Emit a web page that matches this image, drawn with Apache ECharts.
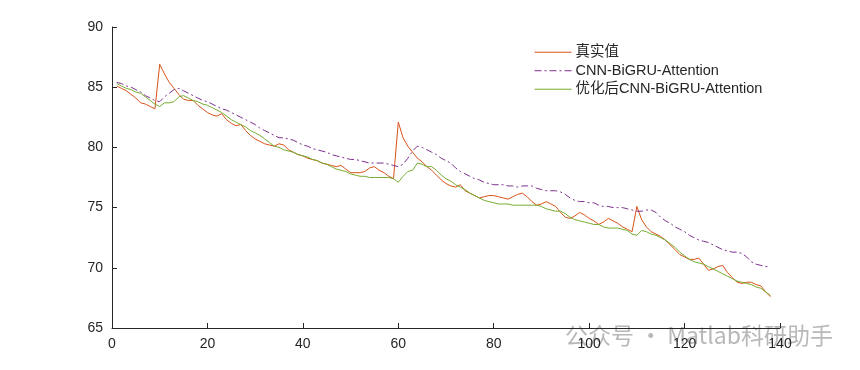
<!DOCTYPE html>
<html>
<head>
<meta charset="utf-8">
<script src="https://cdn.jsdelivr.net/npm/echarts@6/dist/echarts.min.js"></script>
<style>html,body{margin:0;padding:0;background:#fff;}#c{width:860px;height:370px;}</style>
</head>
<body>
<div id="c"></div>
<script>
var seriesNames = ['真实值', 'CNN-BiGRU-Attention', '优化后CNN-BiGRU-Attention'];
var xTicks = [0, 20, 40, 60, 80, 100, 120, 140];
var yTicks = [65, 70, 75, 80, 85, 90];

var realValues = [
85.1,84.9,84.7,84.4,84.1,83.7,83.6,83.4,83.2,86.9,
86.1,85.4,84.9,84.4,84.0,83.9,83.9,83.5,83.2,82.9,
82.7,82.6,82.8,82.3,82.0,81.8,81.9,81.4,81.0,80.7,
80.5,80.3,80.2,80.1,80.3,80.2,79.8,79.6,79.4,79.3,
79.1,79.0,78.9,78.7,78.6,78.5,78.4,78.5,78.2,77.9,
77.9,77.9,78.0,78.3,78.4,78.1,77.9,77.6,77.4,82.1,
80.8,80.1,79.6,79.1,78.8,78.4,78.1,77.7,77.3,77.0,
76.8,76.7,76.9,76.4,76.2,76.0,75.8,75.9,76.0,76.0,
75.9,75.8,75.7,75.9,76.1,76.2,75.9,75.5,75.2,75.3,
75.5,75.3,75.1,74.6,74.2,74.1,74.3,74.6,74.4,74.1,
73.9,73.6,73.8,74.1,73.9,73.7,73.4,73.2,73.0,75.1,
74.0,73.4,73.0,72.8,72.6,72.3,71.9,71.5,71.1,70.9,
70.7,70.7,70.8,70.3,69.8,69.9,70.1,70.2,69.6,69.2,
68.8,68.7,68.8,68.8,68.6,68.5,68.0,67.6
];

var cnnValues = [
85.4,85.3,85.1,85.0,84.8,84.6,84.3,84.1,83.9,83.8,
84.2,84.5,84.8,84.9,84.7,84.5,84.3,84.1,83.9,83.8,
83.6,83.4,83.2,83.1,82.9,82.7,82.5,82.3,82.1,81.9,
81.6,81.4,81.2,81.0,80.8,80.8,80.7,80.6,80.4,80.2,
80.1,79.9,79.8,79.7,79.6,79.4,79.3,79.2,79.1,79.0,
79.0,78.9,78.8,78.7,78.7,78.7,78.7,78.6,78.5,78.4,
78.6,79.1,79.7,80.1,80.0,79.8,79.6,79.4,79.1,78.9,
78.7,78.3,78.0,77.8,77.6,77.4,77.3,77.1,77.0,76.9,
76.9,76.9,76.8,76.8,76.7,76.8,76.8,76.8,76.6,76.5,
76.4,76.4,76.4,76.3,76.1,75.8,75.6,75.5,75.5,75.4,
75.4,75.2,75.1,75.1,75.0,75.0,75.0,74.9,74.8,74.7,
74.7,74.8,74.8,74.6,74.2,73.9,73.7,73.4,73.2,73.0,
72.7,72.5,72.3,72.2,72.1,71.9,71.7,71.5,71.4,71.3,
71.3,71.2,70.9,70.5,70.3,70.2,70.1,70.1
];

var optValues = [
85.3,85.1,84.9,84.8,84.6,84.5,84.2,83.9,83.6,83.4,
83.7,83.7,83.8,84.2,84.3,84.1,83.9,83.8,83.6,83.5,
83.3,83.1,82.9,82.6,82.3,82.1,81.9,81.7,81.4,81.2,
81.0,80.7,80.4,80.1,80.0,79.8,79.7,79.6,79.4,79.3,
79.2,79.0,78.9,78.7,78.6,78.4,78.2,78.1,78.0,77.8,
77.7,77.6,77.6,77.5,77.5,77.5,77.5,77.5,77.4,77.1,
77.6,78.0,78.1,78.7,78.6,78.4,78.4,78.1,77.7,77.4,
77.2,76.9,76.7,76.5,76.2,76.0,75.8,75.6,75.5,75.4,
75.3,75.3,75.3,75.2,75.2,75.2,75.2,75.2,75.2,75.1,
74.9,74.8,74.7,74.7,74.5,74.2,74.0,73.9,73.8,73.7,
73.6,73.6,73.4,73.3,73.3,73.3,73.2,73.1,72.8,72.7,
73.1,73.0,72.8,72.7,72.5,72.3,72.0,71.7,71.3,71.0,
70.7,70.5,70.4,70.3,70.1,69.9,69.7,69.5,69.3,69.1,
68.9,68.8,68.7,68.6,68.4,68.3,68.0,67.7
];

function pairs(arr) { return arr.map(function (v, i) { return [i + 1, v]; }); }

var axisColor = '#262626';
var fontFam = '"Liberation Sans", Arial, "Noto Sans CJK SC", sans-serif';

var chart = echarts.init(document.getElementById('c'), null, { renderer: 'canvas' });
chart.setOption({
  animation: false,
  backgroundColor: '#ffffff',
  grid: { left: 112, right: 80, top: 27, bottom: 42, containLabel: false },
  legend: {
    orient: 'vertical',
    left: 529,
    top: 40,
    itemGap: 4,
    itemWidth: 37,
    itemHeight: 12,
    itemStyle: { opacity: 0 },
    lineStyle: { width: 1 },
    textStyle: { color: axisColor, fontSize: 14.5, fontFamily: fontFam, padding: [0, 0, 0, -1] },
    data: seriesNames
  },
  xAxis: {
    type: 'value',
    min: xTicks[0],
    max: xTicks[xTicks.length - 1],
    interval: 20,
    axisLine: { show: true, lineStyle: { color: axisColor, width: 1 } },
    axisTick: { show: true, inside: true, length: 5, lineStyle: { color: axisColor } },
    axisLabel: { color: axisColor, fontSize: 14, fontFamily: fontFam, margin: 9 },
    splitLine: { show: false }
  },
  yAxis: {
    type: 'value',
    min: yTicks[0],
    max: yTicks[yTicks.length - 1],
    interval: 5,
    axisLine: { show: true, lineStyle: { color: axisColor, width: 1 } },
    axisTick: { show: true, inside: true, length: 5, lineStyle: { color: axisColor } },
    axisLabel: { color: axisColor, fontSize: 14, fontFamily: fontFam, margin: 9 },
    splitLine: { show: false }
  },
  series: [
    {
      name: seriesNames[0], type: 'line', data: pairs(realValues),
      symbol: 'none', showSymbol: false,
      lineStyle: { color: '#D95319', width: 1 }, itemStyle: { color: '#D95319' }
    },
    {
      name: seriesNames[1], type: 'line', data: pairs(cnnValues),
      symbol: 'none', showSymbol: false,
      lineStyle: { color: '#7E2F8E', width: 1, type: [7, 3, 2, 3] }, itemStyle: { color: '#7E2F8E' }
    },
    {
      name: seriesNames[2], type: 'line', data: pairs(optValues),
      symbol: 'none', showSymbol: false,
      lineStyle: { color: '#77AC30', width: 1 }, itemStyle: { color: '#77AC30' }
    }
  ],
  graphic: [
    {
      type: 'text', left: 565, top: 324, silent: true,
      style: { text: '公众号 · Matlab科研助手', fill: '#b8b8b8', font: '23px "Noto Sans CJK SC", sans-serif' }
    }
  ]
});
</script>
</body>
</html>
